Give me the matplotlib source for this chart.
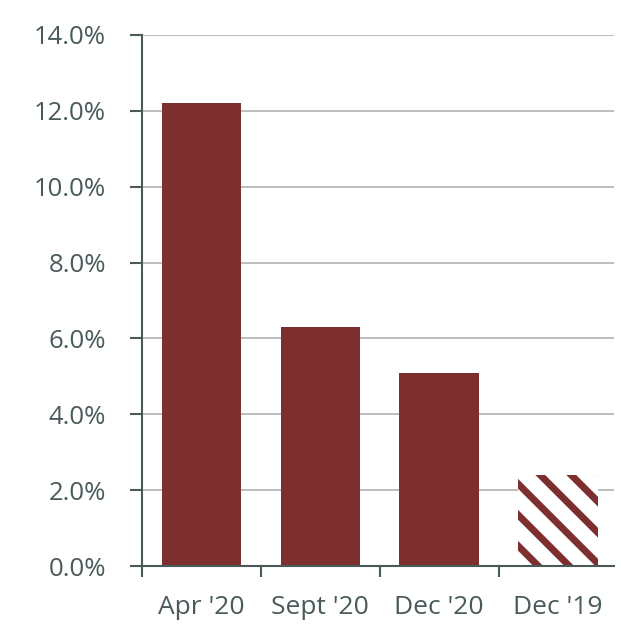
import matplotlib
matplotlib.use("Agg")
import matplotlib.pyplot as plt
from matplotlib.lines import Line2D
from matplotlib.transforms import IdentityTransform
from matplotlib.ticker import FixedLocator, FuncFormatter

categories = ["Apr '20", "Sept '20", "Dec '20", "Dec '19"]
values = [12.2, 6.3, 5.1, 2.4]
hatched = [False, False, False, True]
yticks = [0, 2, 4, 6, 8, 10, 12, 14]

bar_color = "#7d2e2f"
axis_color = "#4a5a5b"
grid_color = "#b8b8b8"

plt.rcParams["font.family"] = ["Open Sans", "DejaVu Sans"]

fig = plt.figure(figsize=(6.21, 6.26), dpi=100)
ax = fig.add_axes([0.2287, 0.0958, 0.7600, 0.8483])

x = list(range(len(categories)))
bars = ax.bar(x, values, width=0.67, zorder=3,
              color=[("white" if h else bar_color) for h in hatched],
              linewidth=0)

ax.set_xlim(-0.5, 3.47)
ax.set_ylim(0, 14)
ax.set_yticks(yticks)
ax.yaxis.set_major_formatter(FuncFormatter(lambda v, p: f"{v:.1f}%"))
ax.set_xticks(x)
ax.set_xticklabels(categories)
ax.xaxis.set_minor_locator(FixedLocator([i - 0.5 for i in x]))

ax.grid(axis="y", color=grid_color, linewidth=1.3, zorder=0)
ax.set_axisbelow(True)

for s in ["top", "right"]:
    ax.spines[s].set_visible(False)
for s in ["left", "bottom"]:
    ax.spines[s].set_color(axis_color)
    ax.spines[s].set_linewidth(1.5)
    ax.spines[s].set_zorder(4)

ax.tick_params(axis="y", colors=axis_color, labelsize=18.5, length=9, width=1.5, pad=17)
ax.tick_params(axis="x", which="major", colors=axis_color, labelsize=19, length=0, pad=21)
ax.tick_params(axis="x", which="minor", color=axis_color, length=8, width=1.5)

# diagonal stripes for the hatched bar, drawn in pixel space and clipped to it
fig.canvas.draw()
step, offset = 31, 20
for bar, h in zip(bars, hatched):
    if not h:
        continue
    ext = bar.get_window_extent()
    L = ext.width + ext.height
    n = int(L / step) + 2
    for k in range(-n, n):
        xs = ext.x0 + offset + k * step
        ln = Line2D([xs - L, xs + L], [ext.y0 + L, ext.y0 - L],
                    transform=IdentityTransform(), color=bar_color,
                    linewidth=5, zorder=3.5, solid_capstyle="butt")
        ax.add_line(ln)
        ln.set_clip_path(bar)

fig.savefig("out.png", dpi=100)
